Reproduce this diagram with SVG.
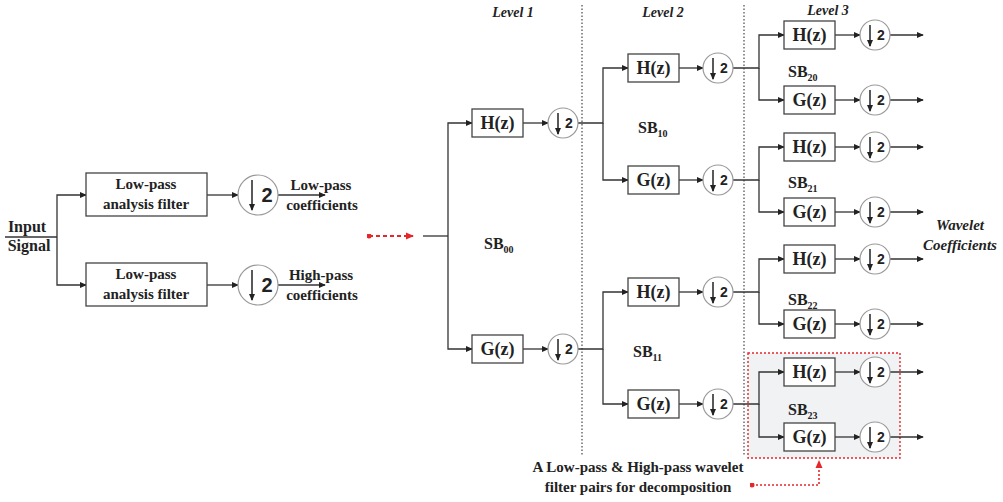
<svg xmlns="http://www.w3.org/2000/svg" width="1003" height="502" viewBox="0 0 1003 502">
<defs>
<style>
.ln{fill:none;stroke:#333;stroke-width:1.3}
.bx{fill:#fff;stroke:#444;stroke-width:1.3}
.cir{fill:#fff;stroke:#999;stroke-width:1.2}
.dot{fill:none;stroke:#555;stroke-width:1.3;stroke-dasharray:1.5 2}
.red{fill:none;stroke:#e8262a;stroke-width:1.8;stroke-dasharray:4 3}
.redb{fill:none;stroke:#e8262a;stroke-width:1.6;stroke-dasharray:2 2}
.t{font-family:"Liberation Serif","Times New Roman",serif;font-weight:bold;fill:#222}
.bt{font-size:15px;text-anchor:middle}
.hz{font-size:18px;text-anchor:middle}
.sb{font-size:16px}
.sub{font-size:10px}
.lv{font-size:14px;font-style:italic;text-anchor:middle}
.two{font-family:"Liberation Sans",Arial,sans-serif;font-weight:bold;fill:#222}
.ia{fill:none;stroke:#222;stroke-width:1.5}
</style>
<marker id="ar" viewBox="0 0 8 8" refX="7" refY="4" markerWidth="7" markerHeight="7" markerUnits="userSpaceOnUse" orient="auto"><path d="M0,0.5 L8,4 L0,7.5 z" fill="#222"/></marker>
<marker id="ard" viewBox="0 0 8 8" refX="7" refY="4" markerWidth="7" markerHeight="7" markerUnits="userSpaceOnUse" orient="auto"><path d="M0,0.5 L8,4 L0,7.5 z" fill="#222"/></marker>
<marker id="rar" viewBox="0 0 8 8" refX="7" refY="4" markerWidth="8" markerHeight="8" markerUnits="userSpaceOnUse" orient="auto"><path d="M0,0.5 L8,4 L0,7.5 z" fill="#e8262a"/></marker>
<marker id="rdot" viewBox="0 0 6 6" refX="3" refY="3" markerWidth="5" markerHeight="5" markerUnits="userSpaceOnUse"><circle cx="3" cy="3" r="3" fill="#e8262a"/></marker>
</defs>
<rect width="1003" height="502" fill="#fff"/>

<g id="highlight">
<rect x="748" y="353" width="152" height="105" fill="#f1f2f4" stroke="#e8262a" stroke-width="1.4" stroke-dasharray="2 2"/>
</g>

<g id="separators">
<line class="dot" x1="582" y1="5" x2="582" y2="455"/>
<line class="dot" x1="744" y1="5" x2="744" y2="455"/>
</g>

<g id="connectors">
<path class="ln" d="M5 237 H57"/>
<path class="ln" d="M57 237 V195 H86" marker-end="url(#ar)"/>
<path class="ln" d="M57 237 V285 H86" marker-end="url(#ar)"/>
<path class="ln" d="M207 195 H238" marker-end="url(#ar)"/>
<path class="ln" d="M207 285 H238" marker-end="url(#ar)"/>
<path class="ln" d="M278 195 H325" marker-end="url(#ar)"/>
<path class="ln" d="M278 285 H325" marker-end="url(#ar)"/>
<path class="red" d="M369 236 H413" marker-start="url(#rdot)" marker-end="url(#rar)"/>
<path class="redb" d="M752 485 H819 V461" marker-start="url(#rdot)" marker-end="url(#rar)"/>
<path class="ln" d="M423 236 H448"/>
<path class="ln" d="M448 236 V123 H472" marker-end="url(#ar)"/>
<path class="ln" d="M448 236 V349 H472" marker-end="url(#ar)"/>
<path class="ln" d="M523 123 H548" marker-end="url(#ar)"/>
<path class="ln" d="M523 349 H548" marker-end="url(#ar)"/>
<path class="ln" d="M578 123 H603 V68 H628" marker-end="url(#ar)"/>
<path class="ln" d="M603 123 V180 H628" marker-end="url(#ar)"/>
<path class="ln" d="M578 349 H603 V292 H628" marker-end="url(#ar)"/>
<path class="ln" d="M603 349 V404 H628" marker-end="url(#ar)"/>
<path class="ln" d="M679 68 H703" marker-end="url(#ar)"/>
<path class="ln" d="M679 180 H703" marker-end="url(#ar)"/>
<path class="ln" d="M679 292 H703" marker-end="url(#ar)"/>
<path class="ln" d="M679 404 H703" marker-end="url(#ar)"/>
<path class="ln" d="M733 68 H759 V35 H784" marker-end="url(#ar)"/>
<path class="ln" d="M759 68 V100 H784" marker-end="url(#ar)"/>
<path class="ln" d="M733 180 H759 V147 H784" marker-end="url(#ar)"/>
<path class="ln" d="M759 180 V212 H784" marker-end="url(#ar)"/>
<path class="ln" d="M733 292 H759 V259 H784" marker-end="url(#ar)"/>
<path class="ln" d="M759 292 V324 H784" marker-end="url(#ar)"/>
<path class="ln" d="M733 404 H759 V372 H784" marker-end="url(#ar)"/>
<path class="ln" d="M759 404 V437 H784" marker-end="url(#ar)"/>
<path class="ln" d="M835 35 H860" marker-end="url(#ar)"/>
<path class="ln" d="M835 100 H860" marker-end="url(#ar)"/>
<path class="ln" d="M835 147 H860" marker-end="url(#ar)"/>
<path class="ln" d="M835 212 H860" marker-end="url(#ar)"/>
<path class="ln" d="M835 259 H860" marker-end="url(#ar)"/>
<path class="ln" d="M835 324 H860" marker-end="url(#ar)"/>
<path class="ln" d="M835 372 H860" marker-end="url(#ar)"/>
<path class="ln" d="M835 437 H860" marker-end="url(#ar)"/>
<path class="ln" d="M890 35 H923" marker-end="url(#ar)"/>
<path class="ln" d="M890 100 H923" marker-end="url(#ar)"/>
<path class="ln" d="M890 147 H923" marker-end="url(#ar)"/>
<path class="ln" d="M890 212 H923" marker-end="url(#ar)"/>
<path class="ln" d="M890 259 H923" marker-end="url(#ar)"/>
<path class="ln" d="M890 324 H923" marker-end="url(#ar)"/>
<path class="ln" d="M890 372 H923" marker-end="url(#ar)"/>
<path class="ln" d="M890 437 H923" marker-end="url(#ar)"/>
</g>

<g id="input-label">
<text class="t" x="27" y="232" font-size="16" text-anchor="middle">Input</text>
<text class="t" x="29" y="251" font-size="16" text-anchor="middle">Signal</text>
</g>
<g id="lp-filter-1">
<rect class="bx" x="86" y="173" width="121" height="43"/>
<text class="t bt" x="146" y="189">Low-pass</text>
<text class="t bt" x="146" y="209">analysis filter</text>
</g>
<g id="lp-filter-2">
<rect class="bx" x="86" y="263" width="121" height="43"/>
<text class="t bt" x="146" y="279">Low-pass</text>
<text class="t bt" x="146" y="299">analysis filter</text>
</g>
<g id="down-a">
<circle class="cir" cx="258" cy="195" r="20"/>
<line class="ia" x1="252" y1="180" x2="252" y2="210" marker-end="url(#ard)"/>
<text class="two" x="267" y="202" font-size="20" text-anchor="middle">2</text>
</g>
<g id="down-b">
<circle class="cir" cx="258" cy="285" r="20"/>
<line class="ia" x1="252" y1="270" x2="252" y2="300" marker-end="url(#ard)"/>
<text class="two" x="267" y="292" font-size="20" text-anchor="middle">2</text>
</g>
<g id="lp-coef">
<text class="t bt" x="321" y="190">Low-pass</text>
<text class="t bt" x="322" y="210">coefficients</text>
</g>
<g id="hp-coef">
<text class="t bt" x="321" y="280">High-pass</text>
<text class="t bt" x="322" y="300">coefficients</text>
</g>

<g id="level-labels">
<text class="t lv" x="513" y="17">Level 1</text>
<text class="t lv" x="663" y="17">Level 2</text>
<text class="t lv" x="828" y="15">Level 3</text>
</g>

<g id="L1-H"><rect class="bx" x="472" y="109" width="51" height="28"/><text class="t hz" x="497.5" y="129">H(z)</text></g>
<g id="L1-G"><rect class="bx" x="472" y="335" width="51" height="28"/><text class="t hz" x="497.5" y="355">G(z)</text></g>
<g id="L1-dH"><circle class="cir" cx="563" cy="123" r="15"/><line class="ia" x1="558" y1="113" x2="558" y2="134" marker-end="url(#ard)"/><text class="two" x="569" y="128" font-size="14" text-anchor="middle">2</text></g>
<g id="L1-dG"><circle class="cir" cx="563" cy="349" r="15"/><line class="ia" x1="558" y1="339" x2="558" y2="360" marker-end="url(#ard)"/><text class="two" x="569" y="354" font-size="14" text-anchor="middle">2</text></g>
<g id="SB00"><text class="t sb" x="484" y="249">SB<tspan class="sub" dy="4">00</tspan></text></g>

<g id="L2-H0"><rect class="bx" x="628" y="54" width="51" height="28"/><text class="t hz" x="653.5" y="74">H(z)</text></g>
<g id="L2-G0"><rect class="bx" x="628" y="166" width="51" height="28"/><text class="t hz" x="653.5" y="186">G(z)</text></g>
<g id="L2-H1"><rect class="bx" x="628" y="278" width="51" height="28"/><text class="t hz" x="653.5" y="298">H(z)</text></g>
<g id="L2-G1"><rect class="bx" x="628" y="390" width="51" height="28"/><text class="t hz" x="653.5" y="410">G(z)</text></g>
<g id="L2-d0"><circle class="cir" cx="718" cy="68" r="15"/><line class="ia" x1="713" y1="58" x2="713" y2="79" marker-end="url(#ard)"/><text class="two" x="724" y="73" font-size="14" text-anchor="middle">2</text></g>
<g id="L2-d1"><circle class="cir" cx="718" cy="180" r="15"/><line class="ia" x1="713" y1="170" x2="713" y2="191" marker-end="url(#ard)"/><text class="two" x="724" y="185" font-size="14" text-anchor="middle">2</text></g>
<g id="L2-d2"><circle class="cir" cx="718" cy="292" r="15"/><line class="ia" x1="713" y1="282" x2="713" y2="303" marker-end="url(#ard)"/><text class="two" x="724" y="297" font-size="14" text-anchor="middle">2</text></g>
<g id="L2-d3"><circle class="cir" cx="718" cy="404" r="15"/><line class="ia" x1="713" y1="394" x2="713" y2="415" marker-end="url(#ard)"/><text class="two" x="724" y="409" font-size="14" text-anchor="middle">2</text></g>
<g id="SB10"><text class="t sb" x="638" y="133">SB<tspan class="sub" dy="4">10</tspan></text></g>
<g id="SB11"><text class="t sb" x="633" y="357">SB<tspan class="sub" dy="4">11</tspan></text></g>

<g id="L3-H0"><rect class="bx" x="784" y="21" width="51" height="28"/><text class="t hz" x="809.5" y="41">H(z)</text></g>
<g id="L3-G0"><rect class="bx" x="784" y="86" width="51" height="28"/><text class="t hz" x="809.5" y="106">G(z)</text></g>
<g id="L3-H1"><rect class="bx" x="784" y="133" width="51" height="28"/><text class="t hz" x="809.5" y="153">H(z)</text></g>
<g id="L3-G1"><rect class="bx" x="784" y="198" width="51" height="28"/><text class="t hz" x="809.5" y="218">G(z)</text></g>
<g id="L3-H2"><rect class="bx" x="784" y="245" width="51" height="28"/><text class="t hz" x="809.5" y="265">H(z)</text></g>
<g id="L3-G2"><rect class="bx" x="784" y="310" width="51" height="28"/><text class="t hz" x="809.5" y="330">G(z)</text></g>
<g id="L3-H3"><rect class="bx" x="784" y="358" width="51" height="28"/><text class="t hz" x="809.5" y="378">H(z)</text></g>
<g id="L3-G3"><rect class="bx" x="784" y="423" width="51" height="28"/><text class="t hz" x="809.5" y="443">G(z)</text></g>
<g id="L3-d0"><circle class="cir" cx="875" cy="35" r="15"/><line class="ia" x1="870" y1="25" x2="870" y2="46" marker-end="url(#ard)"/><text class="two" x="881" y="40" font-size="14" text-anchor="middle">2</text></g>
<g id="L3-d1"><circle class="cir" cx="875" cy="100" r="15"/><line class="ia" x1="870" y1="90" x2="870" y2="111" marker-end="url(#ard)"/><text class="two" x="881" y="105" font-size="14" text-anchor="middle">2</text></g>
<g id="L3-d2"><circle class="cir" cx="875" cy="147" r="15"/><line class="ia" x1="870" y1="137" x2="870" y2="158" marker-end="url(#ard)"/><text class="two" x="881" y="152" font-size="14" text-anchor="middle">2</text></g>
<g id="L3-d3"><circle class="cir" cx="875" cy="212" r="15"/><line class="ia" x1="870" y1="202" x2="870" y2="223" marker-end="url(#ard)"/><text class="two" x="881" y="217" font-size="14" text-anchor="middle">2</text></g>
<g id="L3-d4"><circle class="cir" cx="875" cy="259" r="15"/><line class="ia" x1="870" y1="249" x2="870" y2="270" marker-end="url(#ard)"/><text class="two" x="881" y="264" font-size="14" text-anchor="middle">2</text></g>
<g id="L3-d5"><circle class="cir" cx="875" cy="324" r="15"/><line class="ia" x1="870" y1="314" x2="870" y2="335" marker-end="url(#ard)"/><text class="two" x="881" y="329" font-size="14" text-anchor="middle">2</text></g>
<g id="L3-d6"><circle class="cir" cx="875" cy="372" r="15"/><line class="ia" x1="870" y1="362" x2="870" y2="383" marker-end="url(#ard)"/><text class="two" x="881" y="377" font-size="14" text-anchor="middle">2</text></g>
<g id="L3-d7"><circle class="cir" cx="875" cy="437" r="15"/><line class="ia" x1="870" y1="427" x2="870" y2="448" marker-end="url(#ard)"/><text class="two" x="881" y="442" font-size="14" text-anchor="middle">2</text></g>
<g id="SB20"><text class="t sb" x="788" y="77">SB<tspan class="sub" dy="4">20</tspan></text></g>
<g id="SB21"><text class="t sb" x="788" y="188">SB<tspan class="sub" dy="4">21</tspan></text></g>
<g id="SB22"><text class="t sb" x="788" y="305">SB<tspan class="sub" dy="4">22</tspan></text></g>
<g id="SB23"><text class="t sb" x="788" y="415">SB<tspan class="sub" dy="4">23</tspan></text></g>

<g id="wavelet-label">
<text class="t" x="960" y="230" font-size="15" font-style="italic" text-anchor="middle">Wavelet</text>
<text class="t" x="960" y="250" font-size="15" font-style="italic" text-anchor="middle">Coefficients</text>
</g>
<g id="bottom-label">
<text class="t bt" x="638" y="472">A Low-pass &amp; High-pass wavelet</text>
<text class="t bt" x="638" y="492">filter pairs for decomposition</text>
</g>
</svg>
